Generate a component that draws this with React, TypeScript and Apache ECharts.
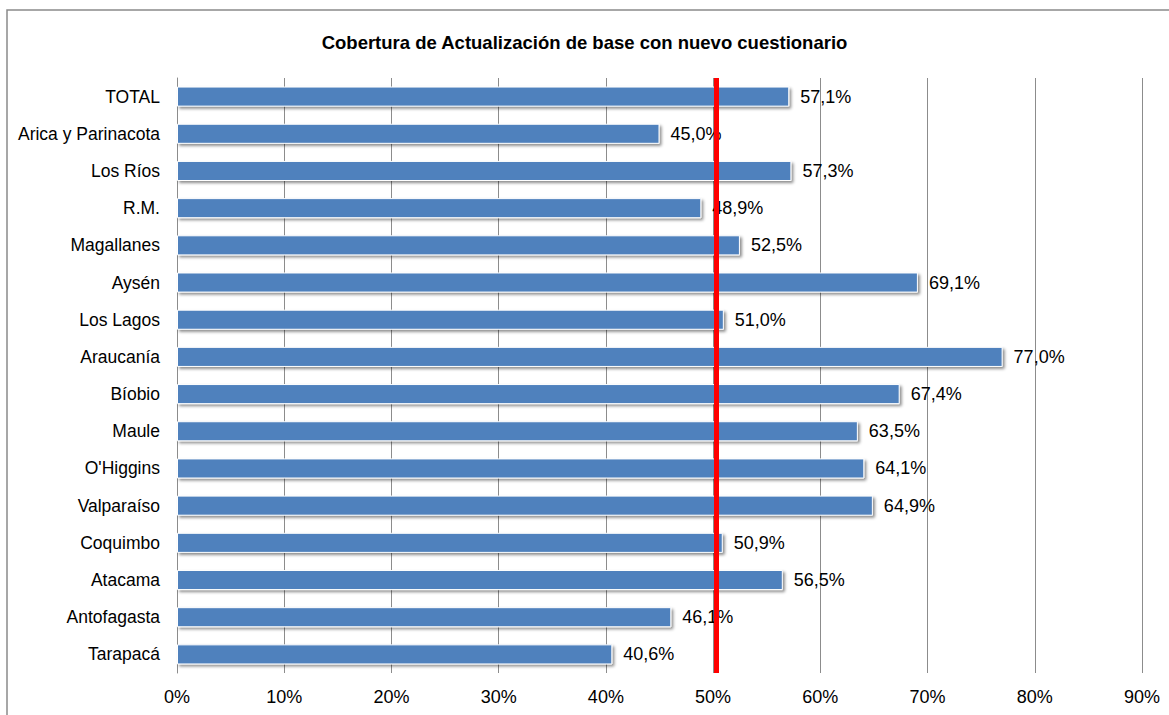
import React, { useEffect, useRef } from "react";
import * as echarts from "echarts";

const categories = [
  "TOTAL",
  "Arica y Parinacota",
  "Los Ríos",
  "R.M.",
  "Magallanes",
  "Aysén",
  "Los Lagos",
  "Araucanía",
  "Bíobio",
  "Maule",
  "O'Higgins",
  "Valparaíso",
  "Coquimbo",
  "Atacama",
  "Antofagasta",
  "Tarapacá",
];
const values = [57.1, 45.0, 57.3, 48.9, 52.5, 69.1, 51.0, 77.0, 67.4, 63.5, 64.1, 64.9, 50.9, 56.5, 46.1, 40.6];
const thresholdValue = 50.3;
const titleText = "Cobertura de Actualización de base con nuevo cuestionario";

const FONT = "'Liberation Sans Narrow', 'Arial Narrow', 'Liberation Sans', sans-serif";

export default function App() {
  const ref = useRef<HTMLDivElement>(null);
  useEffect(() => {
    if (!ref.current) return;
    const chart = echarts.init(ref.current, undefined, { renderer: "svg" });
    chart.setOption({
      animation: false,
      backgroundColor: "#fff",
      title: {
        text: titleText,
        left: "center",
        top: 28,
        textStyle: { fontFamily: FONT, fontSize: 18.5, fontWeight: "bold", color: "#000" },
      },
      graphic: [
        {
          type: "rect",
          shape: { x: 7, y: 10, width: 1300, height: 900 },
          style: { fill: "none", stroke: "#8a8a8a", lineWidth: 1.5 },
          silent: true,
        },
      ],
      grid: { left: 177, right: 27, top: 78, bottom: 42, containLabel: false },
      xAxis: {
        type: "value",
        min: 0,
        max: 90,
        interval: 10,
        axisLine: { show: false },
        axisTick: { show: false },
        axisLabel: {
          formatter: (v: number) => v + "%",
          fontFamily: FONT,
          fontSize: 18,
          color: "#000",
          margin: 15,
        },
        splitLine: { show: true, lineStyle: { color: "#8c8c8c", width: 1 } },
      },
      yAxis: {
        type: "category",
        data: categories,
        inverse: true,
        axisLine: { show: true, lineStyle: { color: "#8c8c8c", width: 1 } },
        axisTick: { show: false },
        axisLabel: { fontFamily: FONT, fontSize: 17.5, color: "#000", margin: 17 },
      },
      series: [
        {
          type: "bar",
          data: values,
          barCategoryGap: "46%",
          itemStyle: {
            color: "#4f81bd",
            borderColor: "#ffffff",
            borderWidth: 1,
            shadowColor: "rgba(0,0,0,0.45)",
            shadowBlur: 3,
            shadowOffsetX: 2,
            shadowOffsetY: 2,
          },
          label: {
            show: true,
            position: "right",
            distance: 11,
            formatter: (p: any) => p.value.toFixed(1).replace(".", ",") + "%",
            fontFamily: FONT,
            fontSize: 18,
            color: "#000",
          },
          markLine: {
            silent: true,
            symbol: "none",
            label: { show: false },
            lineStyle: { color: "#ff0000", width: 5, type: "solid" },
            data: [{ xAxis: thresholdValue }],
          },
        },
      ],
    });
    return () => chart.dispose();
  }, []);
  return (
    <div
      ref={ref}
      style={{ position: "fixed", left: 0, top: 0, width: 1169, height: 715 }}
    />
  );
}
